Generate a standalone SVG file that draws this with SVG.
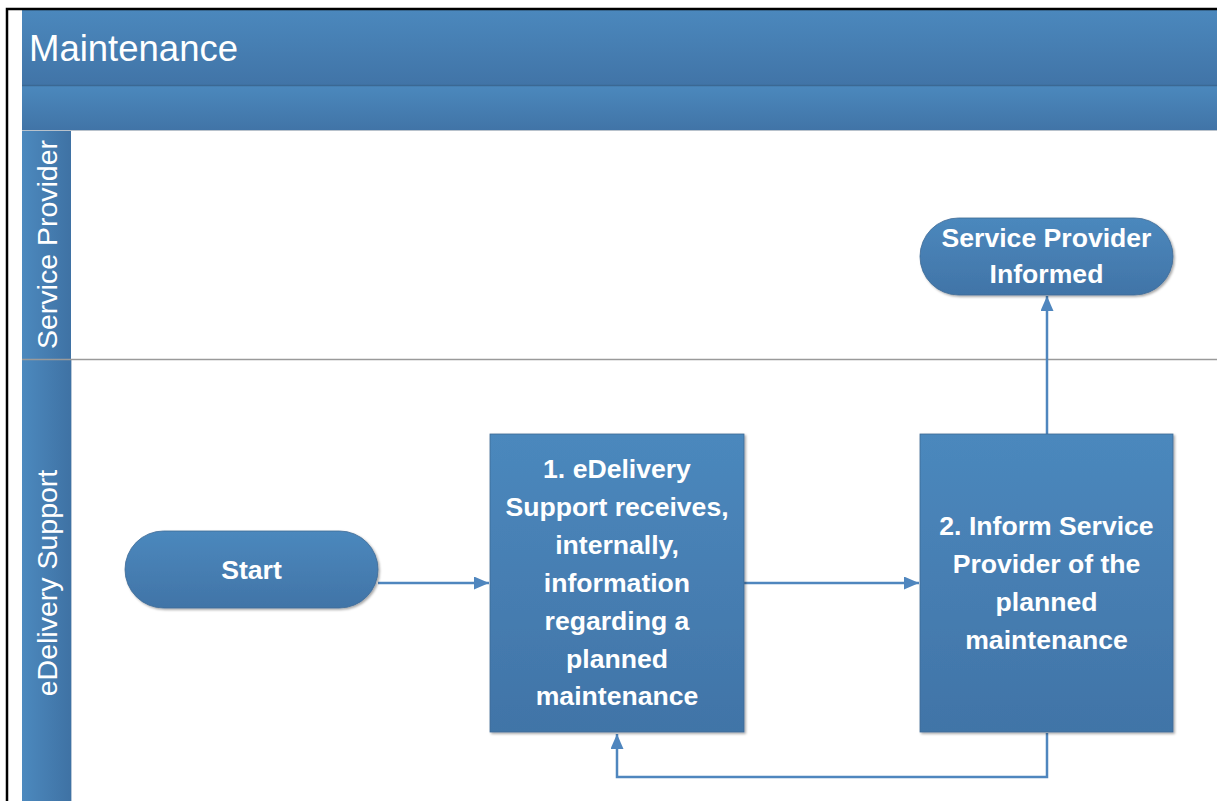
<svg xmlns="http://www.w3.org/2000/svg" width="1217" height="801" viewBox="0 0 1217 801">
  <defs>
    <linearGradient id="gV" x1="0" y1="0" x2="0" y2="1">
      <stop offset="0" stop-color="#4b88bd"/>
      <stop offset="1" stop-color="#4174a7"/>
    </linearGradient>
    <linearGradient id="gH" x1="0" y1="0" x2="1" y2="0">
      <stop offset="0" stop-color="#4c89be"/>
      <stop offset="1" stop-color="#3f72a4"/>
    </linearGradient>
    <filter id="sh" x="-10%" y="-10%" width="130%" height="130%">
      <feDropShadow dx="1.5" dy="1.5" stdDeviation="1" flood-color="#000" flood-opacity="0.35"/>
    </filter>
    <marker id="ah" viewBox="0 0 15 13" refX="15" refY="6.5" markerWidth="15" markerHeight="13" markerUnits="userSpaceOnUse" orient="auto">
      <path d="M0,0 L15,6.5 L0,13 Z" fill="#4f86be"/>
    </marker>
  </defs>
  <style>
    .node { fill: url(#gV); stroke: #3e6a95; stroke-width: 0.8; filter: url(#sh); }
    .nt { font-family: "Liberation Sans", Arial, sans-serif; font-weight: bold; font-size: 26.6px; fill: #ffffff; text-anchor: middle; }
    .lt { font-family: "Liberation Sans", Arial, sans-serif; font-size: 28.5px; fill: #ffffff; text-anchor: middle; }
    .conn { fill: none; stroke: #4f86be; stroke-width: 2.5; }
  </style>
  <rect x="0" y="0" width="1217" height="801" fill="#ffffff"/>

  <g id="pool">
    <rect x="22" y="10" width="1195" height="75" fill="url(#gV)"/>
    <rect x="22" y="86" width="1195" height="44" fill="url(#gV)"/>
    <line x1="22" y1="85.5" x2="1217" y2="85.5" stroke="#3b6893" stroke-width="1.5"/>
    <line x1="22" y1="130.5" x2="1217" y2="130.5" stroke="#b8c2cc" stroke-width="1.2"/>
    <text x="29" y="61" font-family="'Liberation Sans', Arial, sans-serif" font-size="36.5" fill="#ffffff">Maintenance</text>
    <path d="M7,801 V9 H1217" fill="none" stroke="#000000" stroke-width="2.5"/>
  </g>

  <g id="lane-service-provider">
    <rect x="22" y="131" width="49" height="228" fill="url(#gH)"/>
    <text class="lt" transform="translate(57,244.5) rotate(-90)">Service Provider</text>
  </g>
  <g id="lane-edelivery-support">
    <rect x="22" y="359" width="49" height="442" fill="url(#gH)"/>
    <line x1="71.5" y1="359" x2="71.5" y2="801" stroke="#b8c8d8" stroke-width="1"/>
    <text class="lt" transform="translate(57,583) rotate(-90)">eDelivery Support</text>
  </g>
  <line x1="22" y1="359.5" x2="1217" y2="359.5" stroke="#9a9a9a" stroke-width="1.3"/>

  <g id="connectors">
    <path class="conn" d="M378,583 H489" marker-end="url(#ah)"/>
    <path class="conn" d="M744,583 H919" marker-end="url(#ah)"/>
    <path class="conn" d="M1047,434 V296" marker-end="url(#ah)"/>
    <path class="conn" d="M1047,733 V777 H617 V734" marker-end="url(#ah)"/>
  </g>

  <g id="start">
    <rect class="node" x="125" y="531" width="253" height="77" rx="38.5" ry="38.5"/>
    <text class="nt" x="251.5" y="579">Start</text>
  </g>

  <g id="step1">
    <rect class="node" x="490" y="434" width="254" height="298"/>
    <text class="nt" x="617" y="478">1. eDelivery</text>
    <text class="nt" x="617" y="516">Support receives,</text>
    <text class="nt" x="617" y="554">internally,</text>
    <text class="nt" x="617" y="592">information</text>
    <text class="nt" x="617" y="630">regarding a</text>
    <text class="nt" x="617" y="668">planned</text>
    <text class="nt" x="617" y="705">maintenance</text>
  </g>

  <g id="step2">
    <rect class="node" x="920" y="434" width="253" height="298"/>
    <text class="nt" x="1046.5" y="535">2. Inform Service</text>
    <text class="nt" x="1046.5" y="573">Provider of the</text>
    <text class="nt" x="1046.5" y="611">planned</text>
    <text class="nt" x="1046.5" y="649">maintenance</text>
  </g>

  <g id="service-provider-informed">
    <rect class="node" x="920" y="218" width="253" height="77" rx="38.5" ry="38.5"/>
    <text class="nt" x="1046.5" y="247">Service Provider</text>
    <text class="nt" x="1046.5" y="283">Informed</text>
  </g>
</svg>
